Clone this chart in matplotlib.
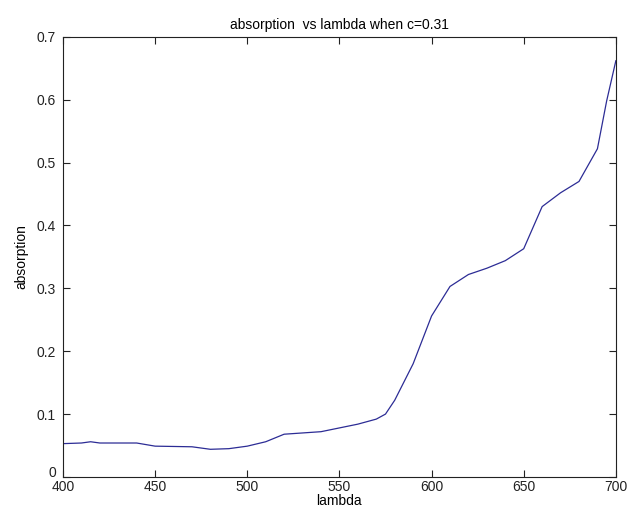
import matplotlib
matplotlib.use("Agg")
import matplotlib.pyplot as plt
import matplotlib.transforms as mtransforms

# DATA
wavelength = [400, 410, 415, 420, 440, 450, 470, 480, 490, 500, 510, 520, 530,
              540, 550, 560, 570, 575, 580, 590, 600, 610, 620, 630, 640, 650,
              660, 670, 680, 690, 695, 700]
absorption = [0.053, 0.054, 0.056, 0.054, 0.054, 0.049, 0.048, 0.044, 0.045,
              0.049, 0.056, 0.068, 0.070, 0.072, 0.078, 0.084, 0.092, 0.100,
              0.122, 0.180, 0.256, 0.303, 0.322, 0.332, 0.344, 0.363, 0.430,
              0.452, 0.470, 0.522, 0.598, 0.662]

x_ticks = [400, 450, 500, 550, 600, 650, 700]
y_ticks = [0, 0.1, 0.2, 0.3, 0.4, 0.5, 0.6, 0.7]
y_tick_labels = ["0", "0.1", "0.2", "0.3", "0.4", "0.5", "0.6", "0.7"]

plt.rcParams["font.family"] = ["Liberation Sans", "DejaVu Sans"]

fig = plt.figure(figsize=(6.31, 5.19), dpi=100)
ax = fig.add_axes([0.0998, 0.081, 0.8762, 0.848])

ax.plot(wavelength, absorption, color="#2c2c95", linewidth=0.9)

ax.set_xlim(400, 700)
ax.set_ylim(0, 0.7)
ax.set_xticks(x_ticks)
ax.set_yticks(y_ticks)
ax.set_yticklabels(y_tick_labels)
ax.tick_params(direction="in", length=5, width=0.8, top=True, right=True,
               labelsize=10, colors="#222222")
ax.tick_params(axis="x", pad=2)
ax.tick_params(axis="y", pad=5)
for s in ax.spines.values():
    s.set_linewidth(0.8)
    s.set_color("#222222")

# nudge the "0" label up a bit so it sits above "400" like matlab does
zero_lbl = ax.get_yticklabels()[0]
zero_lbl.set_transform(zero_lbl.get_transform() +
                       mtransforms.ScaledTranslation(0, 5 / 100, fig.dpi_scale_trans))

ax.set_title("absorption  vs lambda when c=0.31", fontsize=10, pad=6)
ax.set_xlabel("lambda", fontsize=10, labelpad=0)
ax.set_ylabel("absorption", fontsize=10, labelpad=6)

fig.savefig("out.png", dpi=100)
